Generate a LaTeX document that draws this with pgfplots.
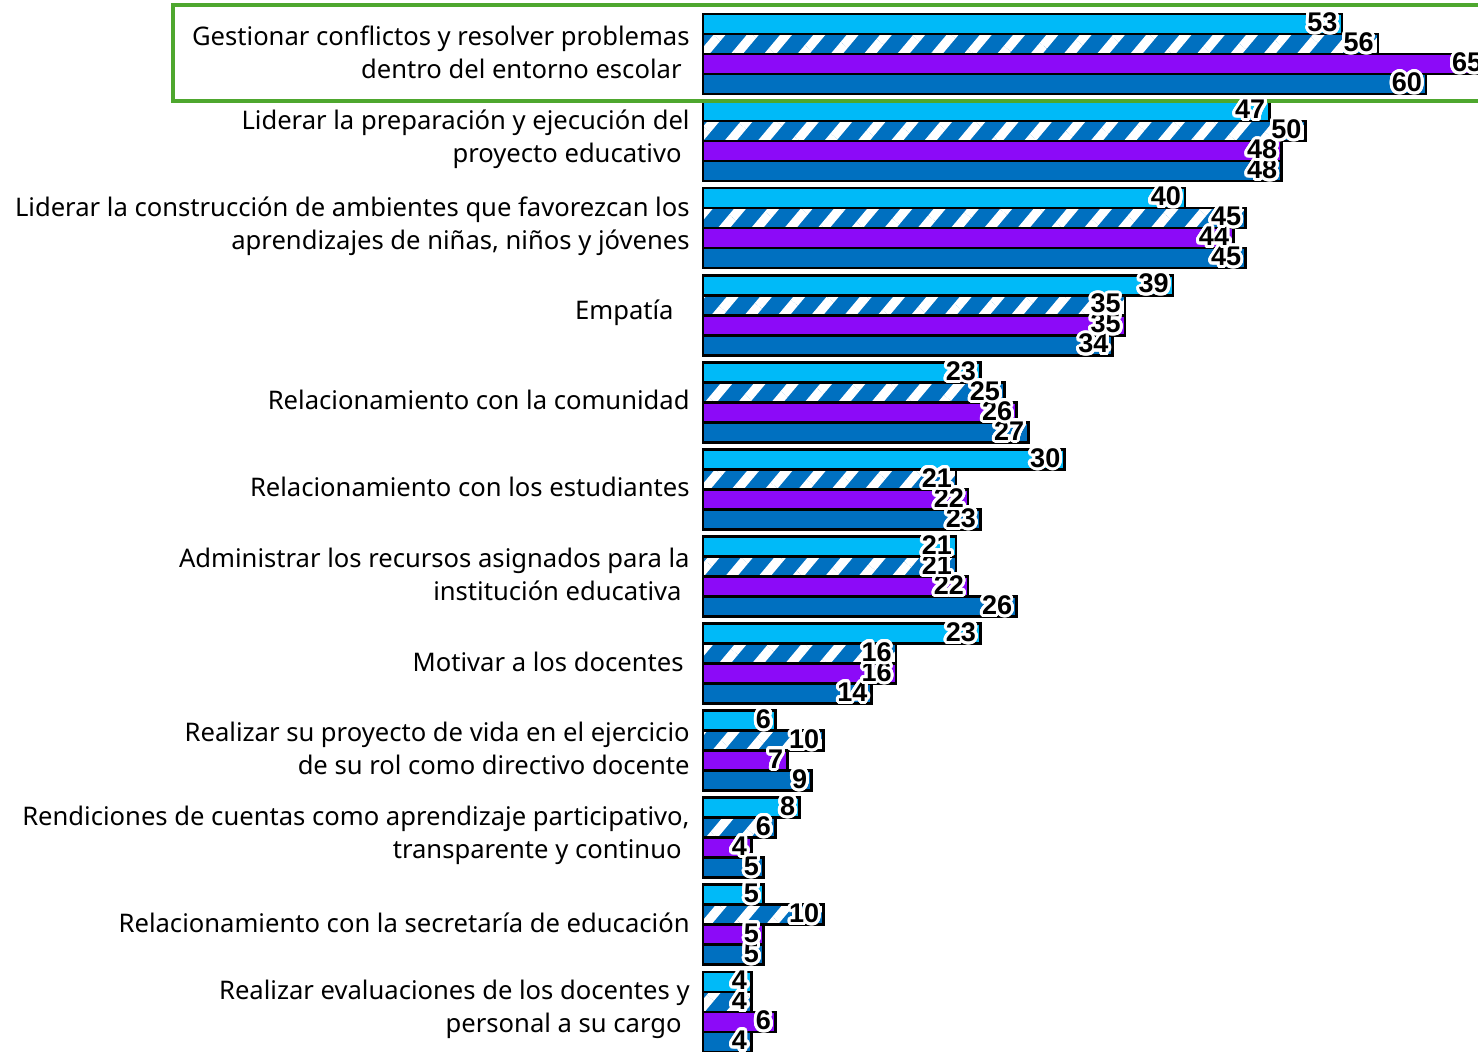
\documentclass[border=0pt]{standalone}
\usepackage{fontspec}
\setmainfont{Noto Sans}
\newfontfamily\numfont{Liberation Sans}
\usepackage{pgfplots}
\usepackage{pgfplotstable}
\pgfplotsset{compat=1.18}
\usetikzlibrary{patterns.meta}
\usepackage{contour}
\contourlength{1.5pt}
\contournumber{32}
\definecolor{cLight}{HTML}{00BAF8}
\definecolor{cHatch}{HTML}{0070C0}
\definecolor{cPurple}{HTML}{8C0AF8}
\definecolor{cDark}{HTML}{0070C0}
\definecolor{cGreen}{HTML}{4EA72E}

\pgfplotstableread{
idx a  b  c  d
0   53 56 65 60
1   47 50 48 48
2   40 45 44 45
3   39 35 35 34
4   23 25 26 27
5   30 21 22 23
6   21 21 22 26
7   23 16 16 14
8   6  10 7  9
9   8  6  4  5
10  5  10 5  5
11  4  4  6  4
}\data

\begin{document}
\begin{tikzpicture}
\begin{axis}[
    name=ax,
    scale only axis,
    width=387.5pt, height=525.5pt,
    xbar=0pt, bar width=10pt,
    xmin=0, xmax=64.3,
    ymin=-0.62, ymax=11.45,
    y dir=reverse,
    hide x axis,
    axis y line*=left,
    y axis line style={draw=none},
    major tick length=0pt,
    ytick={0,...,11},
    yticklabels={
      {Gestionar conflictos y resolver problemas\\dentro del entorno escolar\hspace*{4pt}},
      {Liderar la preparación y ejecución del\\proyecto educativo\hspace*{4pt}},
      {Liderar la construcción de ambientes que favorezcan los\\aprendizajes de niñas, niños y jóvenes},
      {Empatía\hspace*{8pt}},
      {Relacionamiento con la comunidad},
      {Relacionamiento con los estudiantes},
      {Administrar los recursos asignados para la\\institución educativa\hspace*{4pt}},
      {Motivar a los docentes\hspace*{3pt}},
      {Realizar su proyecto de vida en el ejercicio\\de su rol como directivo docente},
      {Rendiciones de cuentas como aprendizaje participativo,\\transparente y continuo\hspace*{4pt}},
      {Relacionamiento con la secretaría de educación},
      {Realizar evaluaciones de los docentes y\\personal a su cargo\hspace*{4pt}}
    },
    yticklabel style={align=right, font=\fontsize{12.8}{16.5}\selectfont, inner sep=0pt, xshift=-6.5pt, yshift=1pt},
    clip=false,
    nodes near coords={\contour{white}{\pgfmathprintnumber[assume math mode=true]{\pgfplotspointmeta}}},
    nodes near coords style={anchor=east, inner sep=1.5pt, font=\numfont\bfseries\fontsize{13.5}{13.5}\selectfont, text=black},
    every axis plot/.append style={draw=black, line width=1.3pt},
]
\addplot[fill=cDark] table[x=d, y=idx] {\data};
\addplot[fill=cPurple] table[x=c, y=idx] {\data};
\addplot[preaction={fill=cHatch}, pattern={Lines[angle=50, distance=12.75pt, line width=4.6pt]}, pattern color=white] table[x=b, y=idx] {\data};
\addplot[fill=cLight] table[x=a, y=idx] {\data};
\draw[cGreen, line width=2pt] ([xshift=-265pt]axis cs:0,-0.5626) rectangle (axis cs:70,0.5396);
\end{axis}
\pgfresetboundingbox
\path ([xshift=-351.5pt]ax.south west) rectangle (ax.north east);
\end{tikzpicture}
\end{document}
